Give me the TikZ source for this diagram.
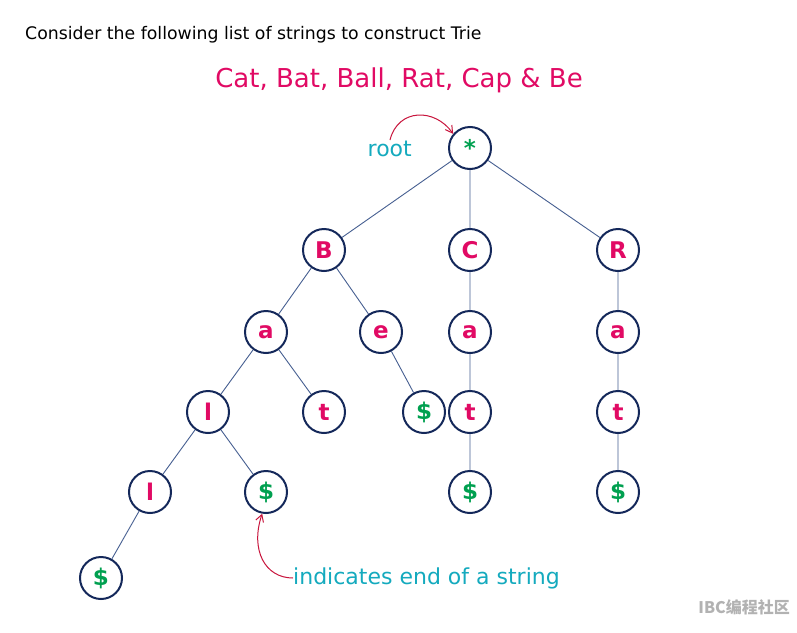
\documentclass[tikz,border=0pt]{standalone}
\usepackage{fontspec}
\setmainfont{DejaVu Sans}
\newfontfamily\cjkfont{Noto Sans CJK SC}
\usetikzlibrary{arrows.meta}
\definecolor{navy}{RGB}{20,40,90}
\definecolor{edgec}{RGB}{70,95,145}
\definecolor{mag}{RGB}{225,10,100}
\definecolor{grn}{RGB}{0,160,80}
\definecolor{teal}{RGB}{20,170,190}
\definecolor{arr}{RGB}{200,20,60}
\tikzset{
  tnode/.style={circle,draw=navy,line width=2pt,minimum size=42pt,inner sep=0pt,fill=white,
    font=\fontsize{23}{23}\selectfont\bfseries,text=mag},
  endnode/.style={tnode,text=grn},
  tedge/.style={draw=edgec,line width=0.9pt},
  note/.style={text=teal,font=\fontsize{22}{22}\selectfont,inner sep=0pt},
  redarrow/.style={draw=arr,line width=1pt,-{Straight Barb[length=7pt,width=8pt]}}
}
\begin{document}
\begin{tikzpicture}[x=1pt,y=-1pt]
\useasboundingbox (0,0) rectangle (797,632);
\fill[white] (0,0) rectangle (797,632);
\node[anchor=west,inner sep=0pt,font=\fontsize{17.3}{17.3}\selectfont] (title) at (25,35) {Consider the following list of strings to construct Trie};
\node[text=mag,inner sep=0pt,font=\fontsize{26}{26}\selectfont] (words) at (399,80) {Cat, Bat, Ball, Rat, Cap \& Be};

\node[endnode] (root) at (470,148) {*};
\node[tnode] (B) at (324,250) {B};
\node[tnode] (C) at (470,250) {C};
\node[tnode] (R) at (618,250) {R};
\node[tnode] (Ba) at (266,332) {a};
\node[tnode] (Be) at (381,332) {e};
\node[tnode] (Ca) at (470,332) {a};
\node[tnode] (Ra) at (618,332) {a};
\node[tnode] (Bal) at (208,412) {l};
\node[tnode] (Bat) at (324,412) {t};
\node[endnode] (Bee) at (424,412) {\$};
\node[tnode] (Cat) at (470,412) {t};
\node[tnode] (Rat) at (618,412) {t};
\node[tnode] (Ball) at (150,492) {l};
\node[endnode] (Bale) at (266,492) {\$};
\node[endnode] (Cate) at (470,492) {\$};
\node[endnode] (Rate) at (618,492) {\$};
\node[endnode] (Balle) at (101,578) {\$};

\path[tedge] (root) -- (B) (root) -- (C) (root) -- (R)
  (B) -- (Ba) (B) -- (Be) (Ba) -- (Bal) (Ba) -- (Bat) (Be) -- (Bee)
  (C) -- (Ca) (Ca) -- (Cat) (Cat) -- (Cate)
  (R) -- (Ra) (Ra) -- (Rat) (Rat) -- (Rate)
  (Bal) -- (Ball) (Bal) -- (Bale) (Ball) -- (Balle);

\node[note,anchor=east] (rootlbl) at (412,149) {root};
\node[note,anchor=west] (endlbl) at (293,578) {indicates end of a string};
\draw[redarrow] (390,140) .. controls (398,108) and (435,108) .. (root.140);
\draw[redarrow] (endlbl.west) .. controls (265,578) and (250,550) .. (Bale.260);

\node[anchor=east,inner sep=0pt,text=black!30,font=\cjkfont\fontsize{16}{16}\selectfont\bfseries] (wm) at (790,607) {IBC编程社区};
\end{tikzpicture}
\end{document}
